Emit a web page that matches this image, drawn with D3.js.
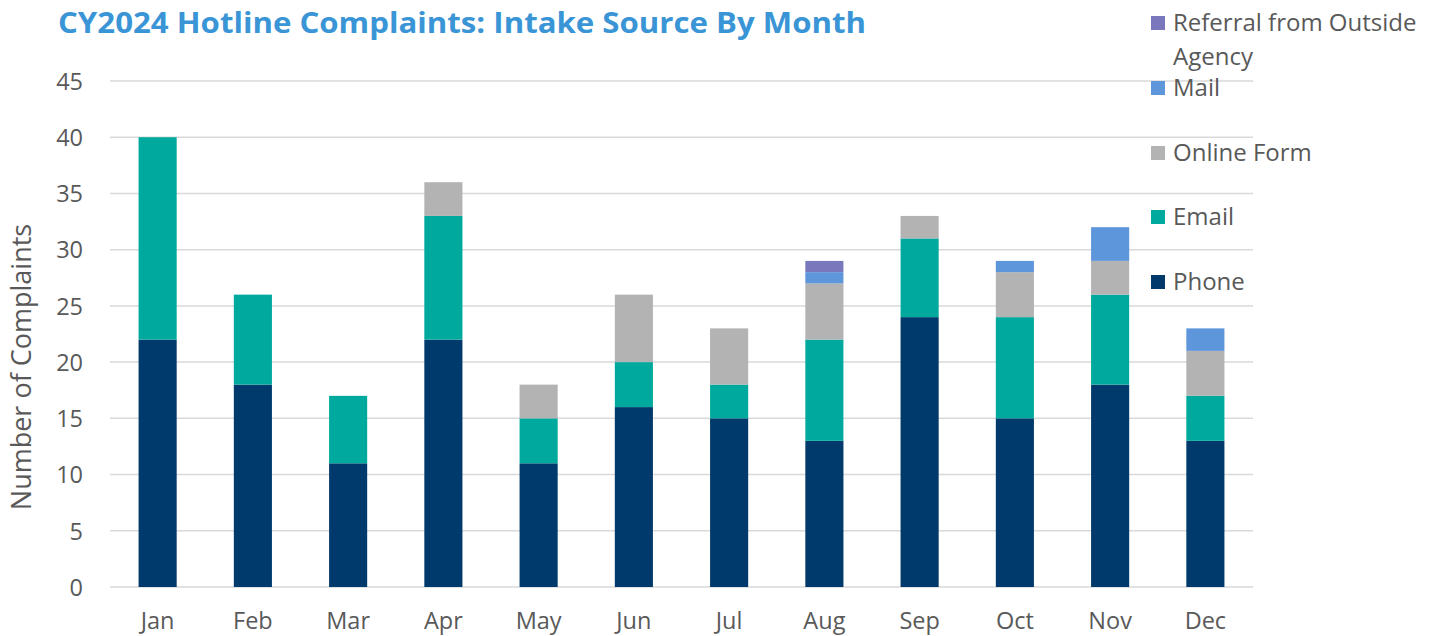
<!DOCTYPE html>
<html>
<head>
	<title>Hotline Complaints</title>
	<script src="https://cdn.jsdelivr.net/npm/d3@7"></script>
	<style>
		body { margin: 0; background: #fff; }
		.chart text { font-family: "Open Sans", "Liberation Sans", sans-serif; fill: #595959; }
	</style>
</head>
<body>
	<svg width=1439 height=636 class="chart"></svg>
	<script>

		months = ['Jan','Feb','Mar','Apr','May','Jun','Jul','Aug','Sep','Oct','Nov','Dec']
		phone    = [22, 18, 11, 22, 11, 16, 15, 13, 24, 15, 18, 13]
		email    = [18,  8,  6, 11,  4,  4,  3,  9,  7,  9,  8,  4]
		online   = [ 0,  0,  0,  3,  3,  6,  5,  5,  2,  4,  3,  4]
		mail     = [ 0,  0,  0,  0,  0,  0,  0,  1,  0,  1,  3,  2]
		referral = [ 0,  0,  0,  0,  0,  0,  0,  1,  0,  0,  0,  0]
		series_names = ['Phone', 'Email', 'Online Form', 'Mail', 'Referral from Outside Agency']
		y_ticks = [0, 5, 10, 15, 20, 25, 30, 35, 40, 45]

		colors = {
			'Phone': '#003a6c',
			'Email': '#00a99d',
			'Online Form': '#b3b3b3',
			'Mail': '#5e96dc',
			'Referral from Outside Agency': '#7a78bd'
		}

		rows = months.map(function(m, i) {
			return {'month': m, 'Phone': phone[i], 'Email': email[i], 'Online Form': online[i],
				'Mail': mail[i], 'Referral from Outside Agency': referral[i]}
		})

		margin = {'top':81, 'right':186, 'bottom':49, 'left':110}
		svg = d3.select('.chart')
		width = 1439 - margin.left - margin.right
		height = 636 - margin.top - margin.bottom

		x = d3.scaleBand().domain(months).range([0, width]).paddingInner(0.6).paddingOuter(0.3)
		y = d3.scaleLinear().domain([0, 45]).range([height, 0])

		// title
		svg.append('text')
			.attr('x', 58).attr('y', 33)
			.attr('textLength', 808).attr('lengthAdjust', 'spacingAndGlyphs')
			.style('font-family', '"Open Sans", sans-serif')
			.style('font-weight', 'bold').style('font-size', '29px')
			.style('fill', '#3a95d6')
			.text('CY2024 Hotline Complaints: Intake Source By Month')

		g = svg.append('g').attr('transform', 'translate('+margin.left+','+margin.top+')')

		// gridlines
		g.append('g')
			.selectAll('line')
			.data(y_ticks)
			.enter()
			.append('line')
			.attr('x1', 0).attr('x2', width)
			.attr('y1', function(d) {return y(d)})
			.attr('y2', function(d) {return y(d)})
			.attr('stroke', '#d9d9d9').attr('stroke-width', 1.5)

		// y tick labels
		yAxis = g.append('g')
			.call(d3.axisLeft(y).tickValues(y_ticks).tickSize(0).tickPadding(27))
		yAxis.select('.domain').remove()
		yAxis.selectAll('text').style('font-size', '23.5px').attr('dy', '0.35em')

		// x labels
		xAxis = g.append('g').attr('transform', 'translate(0,'+height+')')
			.call(d3.axisBottom(x).tickSize(0).tickPadding(25))
		xAxis.select('.domain').remove()
		xAxis.selectAll('text').style('font-size', '23.5px')

		stacked = d3.stack().keys(series_names)(rows)

		g.append('g')
			.selectAll('g')
			.data(stacked)
			.enter()
			.append('g')
			.attr('fill', function(d) {return colors[d.key]})
			.selectAll('rect')
			.data(function(d) {return d})
			.enter()
			.append('rect')
			.attr('x', function(d) {return x(d.data.month)})
			.attr('y', function(d) {return y(d[1])})
			.attr('width', x.bandwidth())
			.attr('height', function(d) {return y(d[0]) - y(d[1])})

		// y axis title
		svg.append('text')
			.attr('transform', 'translate(31,367) rotate(-90)')
			.attr('text-anchor', 'middle')
			.style('font-size', '27px')
			.text('Number of Complaints')

		// legend, top to bottom
		legend_items = [
			{'key': 'Referral from Outside Agency', 'lines': ['Referral from Outside', 'Agency'], 'y': 23},
			{'key': 'Mail', 'lines': ['Mail'], 'y': 88},
			{'key': 'Online Form', 'lines': ['Online Form'], 'y': 153},
			{'key': 'Email', 'lines': ['Email'], 'y': 217},
			{'key': 'Phone', 'lines': ['Phone'], 'y': 282}
		]

		leg = svg.append('g')
			.selectAll('g')
			.data(legend_items)
			.enter()
			.append('g')
			.attr('transform', function(d) {return 'translate(1151,'+d.y+')'})

		leg.append('rect')
			.attr('x', 0).attr('y', -7)
			.attr('width', 14).attr('height', 14)
			.attr('fill', function(d) {return colors[d.key]})

		leg.append('text')
			.attr('x', 22)
			.style('font-size', '24px')
			.selectAll('tspan')
			.data(function(d) {return d.lines})
			.enter()
			.append('tspan')
			.attr('x', 22)
			.attr('y', function(d, i) {return i * 34})
			.attr('dy', '0.35em')
			.text(function(d) {return d})

	</script>
</body>
</html>
